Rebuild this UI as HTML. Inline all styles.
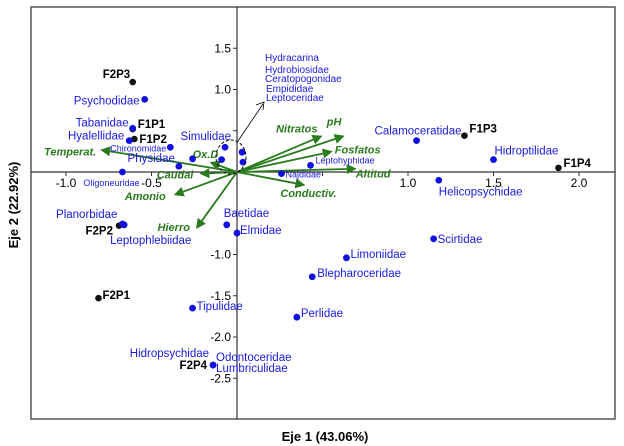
<!DOCTYPE html>
<html><head><meta charset="utf-8"><style>
html,body{margin:0;padding:0;background:#fff;}
svg{display:block;font-family:"Liberation Sans",Arial,sans-serif;}
.sp{fill:#1a1adb;font-size:11.5px;}
.sm{fill:#1a1adb;font-size:9px;}
.st{fill:#000;font-size:11.5px;font-weight:bold;}
.env{fill:#2a7a1e;font-size:11px;font-weight:bold;font-style:italic;}
.tk{fill:#000;font-size:12px;}
</style></head><body>
<svg id="chart" width="624" height="446" viewBox="0 0 624 446">
<rect x="31" y="7" width="584" height="412" fill="#fff" stroke="#555" stroke-width="1.5"/>
<g id="axes"></g>
<g id="envg"></g>
<g id="ptg"></g>
<ellipse cx="231" cy="157" rx="15" ry="17" fill="none" stroke="#000" stroke-dasharray="3,2"/>
<line x1="238" y1="141" x2="263" y2="104" stroke="#000" stroke-width="0.8"/>
<polyline points="256,105 264,102 263,110" fill="none" stroke="#000" stroke-width="0.8"/>
<g class="sm" style="font-size:10px">
<text x="265" y="61">Hydracarina</text><text x="265" y="73">Hydrobiosidae</text><text x="265" y="82">Ceratopogonidae</text><text x="266" y="92">Empididae</text><text x="266" y="101">Leptoceridae</text>
</g>
<text x="325" y="441" text-anchor="middle" style="font-size:13px;font-weight:bold">Eje 1 (43.06%)</text>
<text transform="translate(18,205) rotate(-90)" text-anchor="middle" style="font-size:13px;font-weight:bold">Eje 2 (22.92%)</text>
</svg>
<script>
const xTicks=[-1.0,-0.5,1.0,1.5,2.0];
const xMinor=[-1.0,-0.5,0.5,1.0,1.5,2.0];
const yTicks=[1.5,1.0,-1.0,-1.5,-2.0,-2.5];
const yMinor=[1.5,1.0,0.5,-0.5,-1.0,-1.5,-2.0,-2.5];
const speciesNames=["Psychodidae","Tabanidae","Hyalellidae","Chironomidae","Physidae","Simulidae","Oligoneuridae","Hydracarina","Hydrobiosidae","Ceratopogonidae","Empididae","Leptohyphidae","Najdidae","Calamoceratidae","Hidroptilidae","Helicopsychidae","Baetidae","Elmidae","Planorbidae","Leptophlebiidae","Scirtidae","Limoniidae","Blepharoceridae","Perlidae","Tipulidae","Lumbriculidae"];
const speciesX=[-0.54,-0.61,-0.63,-0.39,-0.34,-0.26,-0.67,-0.07,-0.09,0.03,0.035,0.43,0.26,1.05,1.50,1.18,-0.06,0.0,-0.67,-0.66,1.15,0.64,0.44,0.35,-0.26,-0.14];
const speciesY=[0.88,0.53,0.38,0.30,0.07,0.16,0.0,0.30,0.15,0.24,0.12,0.08,-0.02,0.38,0.15,-0.10,-0.64,-0.74,-0.63,-0.64,-0.81,-1.04,-1.27,-1.76,-1.65,-2.34];
const siteNames=["F2P3","F1P1","F1P2","F2P2","F2P1","F2P4","F1P3","F1P4"];
const siteX=[-0.61,-0.61,-0.60,-0.69,-0.81,-0.14,1.33,1.88];
const siteY=[1.09,0.52,0.40,-0.65,-1.53,-2.34,0.44,0.05];
const envNames=["Temperat.","Ox.D","Caudal","Amonio","Hierro","Nitratos","pH","Fosfatos","Altitud","Conductiv."];
const envX=[-0.80,-0.16,-0.22,-0.37,-0.24,0.50,0.63,0.56,0.70,0.40];
const envY=[0.27,0.12,-0.02,-0.28,-0.69,0.44,0.44,0.25,0.04,-0.16];
// label layout (pixel offsets, not data)
const spLab={Psychodidae:[-5,5,"end"],Tabanidae:[-4,-2,"end"],Hyalellidae:[-5,-1,"end"],Chironomidae:[-4,4,"end",1],Physidae:[-4,-4,"end"],Simulidae:[-12,-19,"start"],Oligoneuridae:[-39,14,"start",1],Leptohyphidae:[5,-2,"start",1],Najdidae:[4,4,"start",1],Calamoceratidae:[-42,-6,"start"],Hidroptilidae:[1,-5,"start"],Helicopsychidae:[0,15,"start"],Baetidae:[-3,-8,"start"],Elmidae:[3,1,"start"],Planorbidae:[-5,-6,"end"],Leptophlebiidae:[-14,19,"start"],Scirtidae:[4,4,"start"],Limoniidae:[4,0,"start"],Blepharoceridae:[5,0,"start"],Perlidae:[4,0,"start"],Tipulidae:[4,2,"start"]};
const siteLab={F2P3:[-30,-4,"start"],F1P1:[5,-1,"start"],F1P2:[5,4,"start"],F2P2:[-6,9,"end"],F2P1:[4,1,"start"],F2P4:[-6,4,"end"],F1P3:[5,-3,"start"],F1P4:[5,-1,"start"]};
const envLab=[[-4,6,"end"],[-17,-4,"start"],[-6,5,"end"],[-8,5,"end"],[-6,2,"end"],[-5,-3,"end"],[-18,-10,"start"],[2,2,"start"],[-1,9,"start"],[-25,12,"start"]];

const X0=237,Y0=172,KX=171,KY=82.5;
const xs=v=>X0+v*KX, ys=v=>Y0-v*KY;
const NS="http://www.w3.org/2000/svg";
function mk(tag,attrs,parent){const e=document.createElementNS(NS,tag);for(const k in attrs)e.setAttribute(k,attrs[k]);parent.appendChild(e);return e;}
const axes=document.getElementById('axes'),envg=document.getElementById('envg'),ptg=document.getElementById('ptg');
let l=mk('line',{x1:31,x2:615,y1:ys(0),y2:ys(0),stroke:'#333','stroke-width':1.2},axes);


l=mk('line',{x1:xs(0),x2:xs(0),y1:7,y2:419,stroke:'#333','stroke-width':1.2},axes);


xMinor.forEach(v=>{const t=mk('line',{x1:xs(v),x2:xs(v),y1:ys(0),y2:ys(0)+4,stroke:'#333'},axes);

});
yMinor.forEach(v=>{const t=mk('line',{x1:xs(0)-4,x2:xs(0),y1:ys(v),y2:ys(v),stroke:'#333'},axes);

});
xTicks.forEach(v=>{const t=mk('text',{x:xs(v),y:ys(0)+15,'text-anchor':'middle',class:'tk'},axes);t.textContent=v.toFixed(1);

});
yTicks.forEach(v=>{const t=mk('text',{x:xs(0)-6,y:ys(v)+4,'text-anchor':'end',class:'tk'},axes);t.textContent=v.toFixed(1);

});
envNames.forEach((n,i)=>{
  const x2=xs(envX[i]),y2=ys(envY[i]);const dx=x2-X0,dy=y2-Y0,L=Math.hypot(dx,dy),ux=dx/L,uy=dy/L;
  const bx=x2-ux*10,by=y2-uy*10;
  const ln=mk('line',{x1:X0,y1:Y0,x2:bx,y2:by,stroke:'#2a7a1e','stroke-width':1.8},envg);
  
  
  const hd=mk('polygon',{points:`${x2},${y2} ${bx-uy*5},${by+ux*5} ${bx+uy*5},${by-ux*5}`,fill:'#2a7a1e'},envg);
  
  
  const o=envLab[i];const t=mk('text',{x:x2+o[0],y:y2+o[1],'text-anchor':o[2],class:'env'},envg);t.textContent=n;
  
  
});
siteNames.forEach((n,i)=>{
  const x=xs(siteX[i]),y=ys(siteY[i]);
  const c=mk('circle',{cx:x,cy:y,r:3.3,fill:'#111'},ptg);
  
  
  const o=siteLab[n];const t=mk('text',{x:x+o[0],y:y+o[1],'text-anchor':o[2],class:'st'},ptg);t.textContent=n;
  
  
});
speciesNames.forEach((n,i)=>{
  const x=xs(speciesX[i]),y=ys(speciesY[i]);
  const c=mk('circle',{cx:x,cy:y,r:3.4,fill:'#1010e0'},ptg);
  
  
  const o=spLab[n];if(!o)return;
  const t=mk('text',{x:x+o[0],y:y+o[1],'text-anchor':o[2],class:o[3]?'sm':'sp'},ptg);t.textContent=n;
  
  
});
// extra labels sharing the Lumbriculidae point
const li=speciesNames.indexOf("Lumbriculidae");const lx=xs(speciesX[li]),ly=ys(speciesY[li]);
[["Hidropsychidae",-4,-8,"end"],["Odontoceridae",3,-4,"start"],["Lumbriculidae",3,7,"start"]].forEach(a=>{
  const t=mk('text',{x:lx+a[1],y:ly+a[2],'text-anchor':a[3],class:'sp'},ptg);t.textContent=a[0];
  
  
});
</script>
</body></html>
